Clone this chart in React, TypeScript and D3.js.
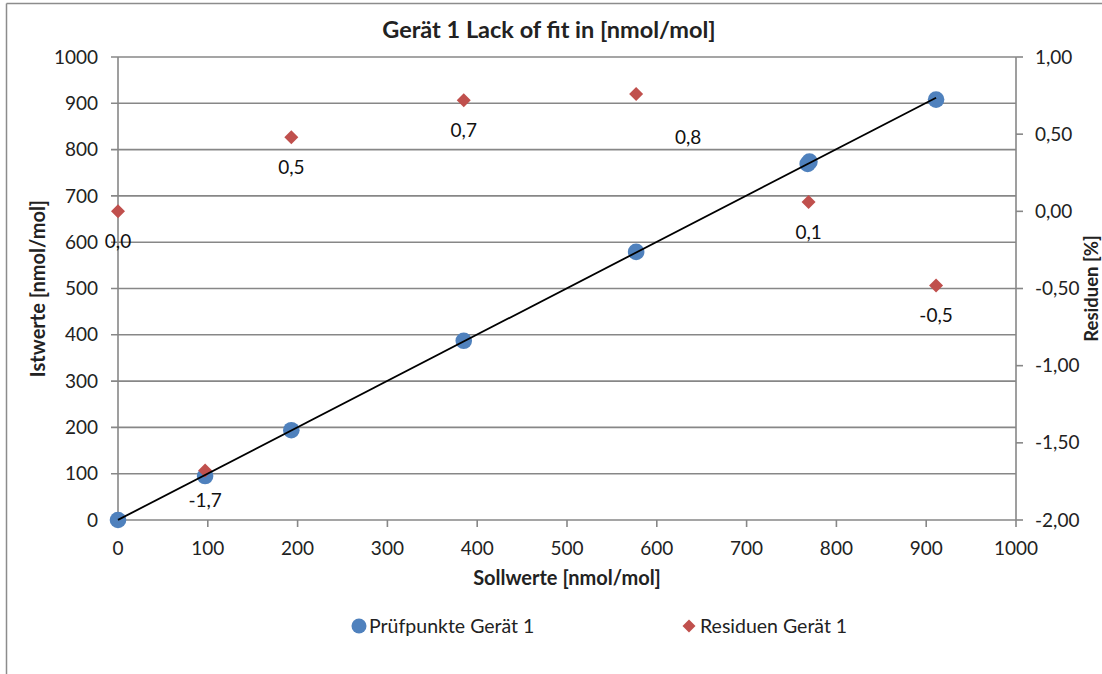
import React from "react";
import * as d3 from "d3";

// Prüfpunkte: Sollwert vs. Istwert [nmol/mol]
const pruefSoll = [0, 97, 193, 385, 577, 768, 770, 911];
const pruefIst = [0, 95, 194, 387, 579, 769, 774, 908];

// Residuen [%] je Sollwert
const residSoll = [0, 97, 193, 385, 577, 769, 911];
const residWerte = [0.0, -1.68, 0.48, 0.72, 0.76, 0.06, -0.48];

// Achsenbeschriftungen
const xTicks = [0, 100, 200, 300, 400, 500, 600, 700, 800, 900, 1000];
const yTicks = [0, 100, 200, 300, 400, 500, 600, 700, 800, 900, 1000];
const rTicks = [-2, -1.5, -1, -0.5, 0, 0.5, 1];

const titleText = "Gerät 1 Lack of fit in [nmol/mol]";
const xTitle = "Sollwerte [nmol/mol]";
const yTitle = "Istwerte [nmol/mol]";
const rTitle = "Residuen [%]";
const legendNames = ["Prüfpunkte Gerät 1", "Residuen Gerät 1"];

// manually nudged label (index -> [dx, dy])
const labelNudge: Record<number, [number, number]> = { 4: [52, 13] };

const W = 1102;
const H = 674;
const M = { left: 118, right: 1016, top: 57, bottom: 520 };

const BLUE = "#4F81BD";
const RED = "#C0504D";
const GRID = "#878787";
const FONT = "Lato, 'Open Sans', sans-serif";
const TICK_FS = 19;

const fmt = (v: number, d: number) => v.toFixed(d).replace(".", ",");

// square diamond marker with half-diagonal r
const diamondPath = (r: number) => `M0,${-r}L${r},0L0,${r}L${-r},0Z`;

export default function App() {
  const x = d3.scaleLinear().domain([0, 1000]).range([M.left, M.right]);
  const y = d3.scaleLinear().domain([0, 1000]).range([M.bottom, M.top]);
  const yr = d3.scaleLinear().domain([-2, 1]).range([M.bottom, M.top]);

  // linear trend line (least squares)
  const mx = d3.mean(pruefSoll)!;
  const my = d3.mean(pruefIst)!;
  const sxy = d3.sum(pruefSoll, (v, i) => (v - mx) * (pruefIst[i] - my));
  const sxx = d3.sum(pruefSoll, (v) => (v - mx) * (v - mx));
  const slope = sxy / sxx;
  const intercept = my - slope * mx;
  const x0 = d3.min(pruefSoll)!;
  const x1 = d3.max(pruefSoll)!;
  const trend = d3.line<number>().x((v) => x(v)).y((v) => y(intercept + slope * v))([x0, x1]) || "";

  return (
    <svg width={W} height={H} style={{ position: "absolute", left: 0, top: 0, background: "#fff" }} fontFamily={FONT}>
      {/* chart frame */}
      <line x1={6.5} x2={6.5} y1={3.5} y2={H} stroke="#8c8c8c" strokeWidth={1.5} />
      <line x1={6.5} x2={W} y1={3.5} y2={3.5} stroke="#8c8c8c" strokeWidth={1.5} />

      {/* grid lines + left ticks */}
      {yTicks.map((t) => (
        <line key={"g" + t} x1={M.left - 7} x2={M.right} y1={y(t)} y2={y(t)} stroke={GRID} strokeWidth={1.6} />
      ))}
      {/* axes */}
      <line x1={M.left} x2={M.left} y1={M.top} y2={M.bottom} stroke={GRID} strokeWidth={1.6} />
      <line x1={M.right} x2={M.right} y1={M.top} y2={M.bottom} stroke={GRID} strokeWidth={1.6} />
      {xTicks.map((t) => (
        <line key={"xt" + t} x1={x(t)} x2={x(t)} y1={M.bottom} y2={M.bottom + 7} stroke={GRID} strokeWidth={1.6} />
      ))}
      {rTicks.map((t) => (
        <line key={"rt" + t} x1={M.right} x2={M.right + 7} y1={yr(t)} y2={yr(t)} stroke={GRID} strokeWidth={1.6} />
      ))}

      {/* tick labels */}
      {yTicks.map((t) => (
        <text key={"yl" + t} x={M.left - 20} y={y(t)} dy="0.35em" textAnchor="end" fontSize={TICK_FS} fill="#222">
          {t}
        </text>
      ))}
      {xTicks.map((t) => (
        <text key={"xl" + t} x={x(t)} y={M.bottom + 35} textAnchor="middle" fontSize={TICK_FS} fill="#222">
          {t}
        </text>
      ))}
      {rTicks.map((t) => (
        <text key={"rl" + t} x={M.right + 19} y={yr(t)} dy="0.35em" textAnchor="start" fontSize={TICK_FS} fill="#222">
          {fmt(t, 2)}
        </text>
      ))}

      {/* titles */}
      <text x={549} y={38} textAnchor="middle" fontSize={23.5} fontWeight="bold" fill="#222">
        {titleText}
      </text>
      <text x={(M.left + M.right) / 2} y={585} textAnchor="middle" fontSize={20} fontWeight="bold" fill="#222">
        {xTitle}
      </text>
      <text
        transform={`translate(45, ${(M.top + M.bottom) / 2}) rotate(-90)`}
        textAnchor="middle"
        fontSize={20}
        fontWeight="bold"
        fill="#222"
      >
        {yTitle}
      </text>
      <text
        transform={`translate(1097.5, ${(M.top + M.bottom) / 2}) rotate(-90)`}
        textAnchor="middle"
        fontSize={18.5}
        fontWeight="bold"
        fill="#222"
      >
        {rTitle}
      </text>

      {/* Prüfpunkte */}
      {pruefSoll.map((s, i) => (
        <circle key={"p" + i} cx={x(s)} cy={y(pruefIst[i])} r={8.3} fill={BLUE} />
      ))}

      {/* Residuen */}
      {residSoll.map((s, i) => (
        <path key={"r" + i} d={diamondPath(7)} transform={`translate(${x(s)}, ${yr(residWerte[i])})`} fill={RED} />
      ))}

      {/* trend line */}
      <path d={trend} stroke="#000" strokeWidth={1.8} fill="none" />

      {/* residual labels */}
      {residSoll.map((s, i) => {
        const [dx, dy] = labelNudge[i] || [0, 0];
        return (
          <text
            key={"rlab" + i}
            x={x(s) + dx}
            y={yr(residWerte[i]) + 30 + dy}
            dy="0.35em"
            textAnchor="middle"
            fontSize={TICK_FS}
            fill="#111"
          >
            {fmt(residWerte[i], 1)}
          </text>
        );
      })}

      {/* legend */}
      <circle cx={359} cy={626} r={7.5} fill={BLUE} />
      <text x={369} y={626} dy="0.35em" fontSize={19.5} fill="#222">
        {legendNames[0]}
      </text>
      <path d={diamondPath(6.5)} transform="translate(689, 626)" fill={RED} />
      <text x={700} y={626} dy="0.35em" fontSize={19.5} fill="#222">
        {legendNames[1]}
      </text>
    </svg>
  );
}
